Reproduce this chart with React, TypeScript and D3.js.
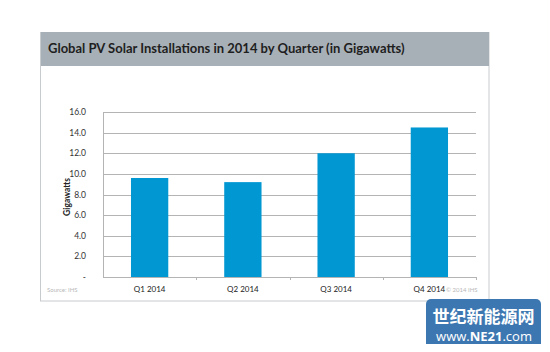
import React, { useEffect, useRef } from 'react'
import * as d3 from 'd3'

// Data
const quarters = ['Q1 2014', 'Q2 2014', 'Q3 2014', 'Q4 2014']
const gigawatts = [9.6, 9.2, 12.0, 14.5]
const yTicks = [0, 2, 4, 6, 8, 10, 12, 14, 16]

const App = () => {
  const ref = useRef<SVGSVGElement | null>(null)

  useEffect(() => {
    const svg = d3.select(ref.current)
    svg.selectAll('*').remove()

    // Dimensions
    const left = 103
    const right = 476
    const top = 112
    const bottom = 277

    const x = d3
      .scaleBand()
      .domain(quarters)
      .range([left, right])
      .paddingInner(0.6)
      .paddingOuter(0.3)
    const y = d3.scaleLinear().domain([0, 16]).range([bottom, top])

    svg.append('rect').attr('width', 550).attr('height', 352).attr('fill', '#fff')

    // panel
    svg
      .append('rect')
      .attr('x', 40.5)
      .attr('y', 32.5)
      .attr('width', 448.5)
      .attr('height', 268.5)
      .attr('fill', '#fff')
      .attr('stroke', '#c8cbce')
    svg
      .append('rect')
      .attr('x', 41)
      .attr('y', 32)
      .attr('width', 448)
      .attr('height', 34)
      .attr('fill', '#a8b0b7')
    svg
      .append('text')
      .attr('x', 48)
      .attr('y', 53)
      .attr('font-family', 'Lato, sans-serif')
      .attr('font-weight', 'bold')
      .attr('font-size', 13)
      .attr('fill', '#1e1e1e')
      .text('Global PV Solar Installations in 2014  by Quarter (in Gigawatts)')

    // grid
    svg
      .append('g')
      .selectAll('line')
      .data(yTicks.filter(d => d > 0))
      .enter()
      .append('line')
      .attr('x1', left)
      .attr('x2', right)
      .attr('y1', d => Math.round(y(d)) + 0.5)
      .attr('y2', d => Math.round(y(d)) + 0.5)
      .attr('stroke', '#b4b4b4')

    // plot frame left + bottom
    svg
      .append('line')
      .attr('x1', left + 0.5)
      .attr('x2', left + 0.5)
      .attr('y1', top)
      .attr('y2', bottom)
      .attr('stroke', '#b4b4b4')
    svg
      .append('line')
      .attr('x1', left)
      .attr('x2', right)
      .attr('y1', bottom + 0.5)
      .attr('y2', bottom + 0.5)
      .attr('stroke', '#b4b4b4')

    // x ticks at band boundaries
    const step = x.step()
    svg
      .append('g')
      .selectAll('line')
      .data(d3.range(1, quarters.length + 1))
      .enter()
      .append('line')
      .attr('x1', i => Math.round(left + i * step) + 0.5)
      .attr('x2', i => Math.round(left + i * step) + 0.5)
      .attr('y1', bottom)
      .attr('y2', bottom + 3)
      .attr('stroke', '#b4b4b4')

    // bars
    svg
      .append('g')
      .selectAll('rect')
      .data(gigawatts)
      .enter()
      .append('rect')
      .attr('x', (d, i) => x(quarters[i]) as number)
      .attr('width', x.bandwidth())
      .attr('y', d => y(d))
      .attr('height', d => bottom - y(d))
      .attr('fill', '#0097d3')

    // y labels
    svg
      .append('g')
      .selectAll('text')
      .data(yTicks)
      .enter()
      .append('text')
      .attr('x', 86)
      .attr('y', d => y(d) + 3)
      .attr('text-anchor', 'end')
      .attr('font-family', 'Lato, sans-serif')
      .attr('font-size', 8.5)
      .attr('fill', '#333')
      .text(d => (d === 0 ? '-' : d.toFixed(1)))

    svg
      .append('text')
      .attr('transform', 'translate(70,197) rotate(-90)')
      .attr('text-anchor', 'middle')
      .attr('font-family', 'Lato, sans-serif')
      .attr('font-weight', 'bold')
      .attr('font-size', 8.5)
      .attr('fill', '#222')
      .text('Gigawatts')

    // x labels
    svg
      .append('g')
      .selectAll('text')
      .data(quarters)
      .enter()
      .append('text')
      .attr('x', d => (x(d) as number) + x.bandwidth() / 2)
      .attr('y', 292)
      .attr('text-anchor', 'middle')
      .attr('font-family', 'Lato, sans-serif')
      .attr('font-size', 8)
      .attr('fill', '#222')
      .text(d => d)

    svg
      .append('text')
      .attr('x', 47)
      .attr('y', 292)
      .attr('font-family', 'Lato, sans-serif')
      .attr('font-size', 6)
      .attr('fill', '#b8b8b8')
      .text('Source: IHS')
    svg
      .append('text')
      .attr('x', 446)
      .attr('y', 292)
      .attr('font-family', 'Lato, sans-serif')
      .attr('font-size', 6)
      .attr('fill', '#b8b8b8')
      .text('© 2014 IHS')

    // watermark
    svg
      .append('rect')
      .attr('x', 426)
      .attr('y', 299)
      .attr('width', 115)
      .attr('height', 50)
      .attr('rx', 5)
      .attr('fill', '#3d77b1')
    svg
      .append('text')
      .attr('x', 483.5)
      .attr('y', 323)
      .attr('text-anchor', 'middle')
      .attr('font-family', '"Noto Sans CJK SC", sans-serif')
      .attr('font-weight', 'bold')
      .attr('font-size', 17)
      .attr('fill', '#fff')
      .text('世纪新能源网')
    const www = svg
      .append('text')
      .attr('x', 484)
      .attr('y', 341)
      .attr('text-anchor', 'middle')
      .attr('font-family', '"Open Sans", sans-serif')
      .attr('font-size', 13)
      .attr('fill', '#fff')
    www.append('tspan').text('www.')
    www.append('tspan').attr('font-weight', 'bold').text('NE21')
    www.append('tspan').text('.com')
  }, [])

  return (
    <div style={{ margin: -8 }}>
      <svg ref={ref} width={550} height={352} style={{ display: 'block' }} />
    </div>
  )
}

export default App
